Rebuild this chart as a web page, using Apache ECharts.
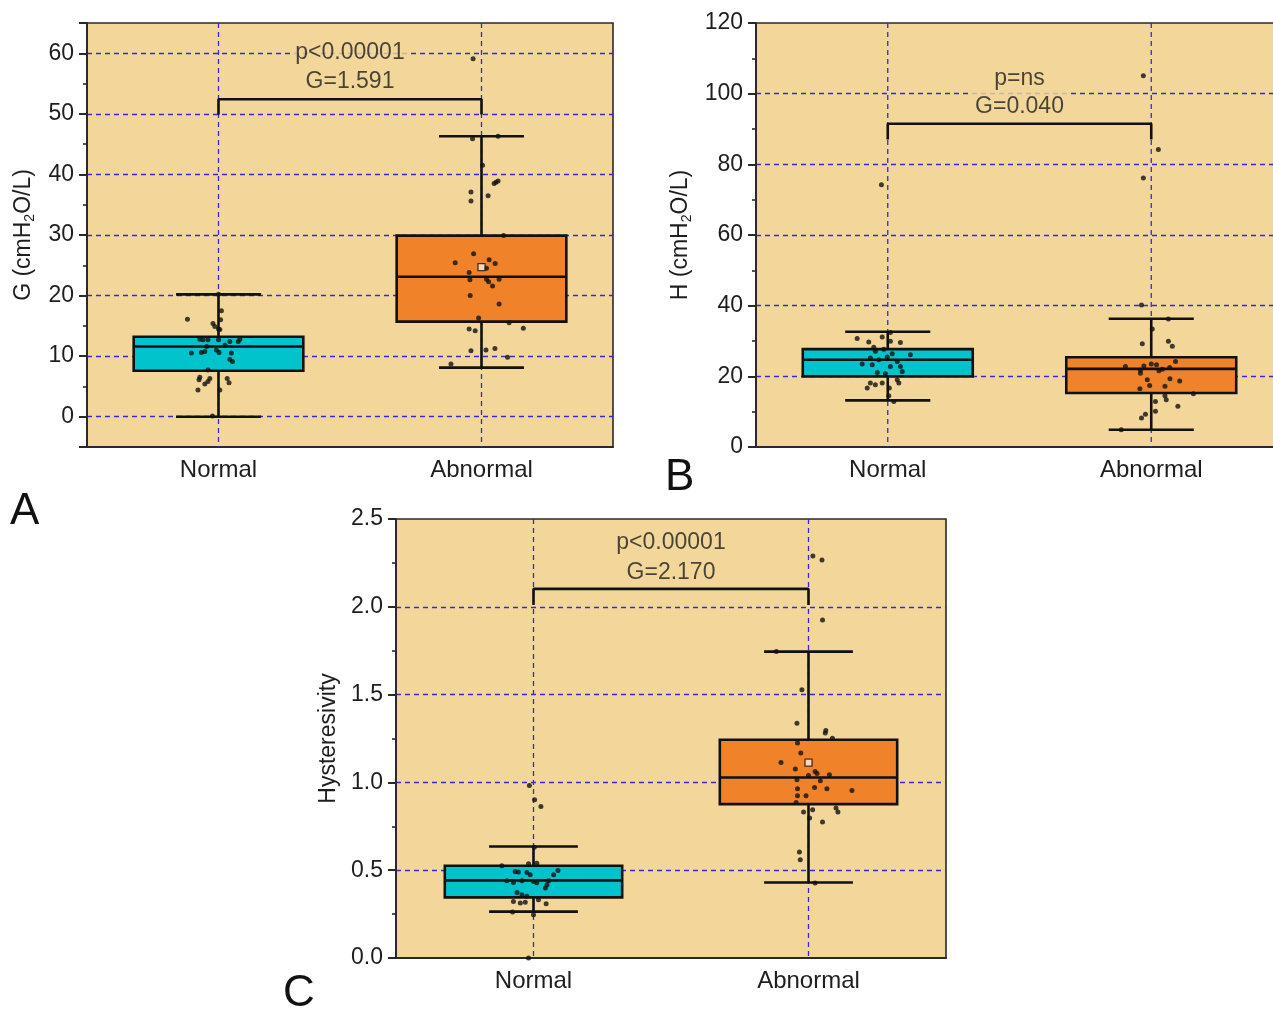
<!DOCTYPE html>
<html><head><meta charset="utf-8">
<script src="https://cdn.jsdelivr.net/npm/echarts@6/dist/echarts.min.js"></script>
<style>html,body{margin:0;padding:0;background:#fff}#c{width:1273px;height:1009px}</style>
</head><body><div id="c"></div>
<script>
// ---------- DATA ----------
const categories = ['Normal', 'Abnormal'];

// box statistics: [lower whisker, Q1, median, Q3, upper whisker]
const boxG  = [[0, 7.6, 11.6, 13.2, 20.2], [8.1, 15.7, 23.1, 29.9, 46.3]];
const boxH  = [[13.2, 20.0, 24.7, 27.7, 32.6], [4.9, 15.3, 22.1, 25.4, 36.3]];
const boxHy = [[0.264, 0.345, 0.442, 0.525, 0.635], [0.430, 0.876, 1.028, 1.243, 1.745]];

// visible mean markers [category index, value]
const meanG  = [[1, 24.7]];
const meanH  = [];
const meanHy = [[1, 1.113]];

// individual points: [horizontal jitter in category units, value]
const ptsG_Normal = [[-0.118,16.1],[0.011,17.5],[0.008,16.0],[-0.021,15.4],[-0.014,14.9],[0,14.5],[0.005,14.4],[-0.071,12.8],[-0.059,12.7],[-0.04,12.7],[0,12.7],[0.043,12.4],[0.075,12.4],[0.081,12.8],[-0.103,10.5],[-0.065,10.6],[-0.052,10.75],[-0.008,11.0],[0.002,10.6],[0.049,10.5],[0.043,9.5],[0.053,9.1],[-0.071,6.5],[-0.074,6.1],[-0.033,6.3],[-0.04,5.8],[-0.052,5.4],[0.033,6.3],[0.04,5.6],[-0.078,4.4],[0.005,4.4],[-0.023,0.1],[-0.04,7.7],[-0.045,11.6],[0.025,11.8],[0,20.2]];
const ptsG_Abnormal = [[-0.032,59.1],[-0.034,45.9],[0.063,46.3],[0.004,41.5],[0.055,38.7],[0.063,38.9],[0.048,38.5],[-0.04,37.1],[-0.04,35.6],[0.025,36.5],[0.084,29.9],[-0.03,26.9],[-0.1,25.4],[0.029,25.9],[0.052,25.3],[0.019,24.5],[-0.047,23.8],[-0.044,22.6],[0.019,22.7],[0.027,22.3],[0.042,21.6],[0.067,22.7],[-0.043,20.0],[0.067,18.6],[-0.011,16.3],[0.105,15.5],[-0.047,14.5],[-0.024,14.2],[0.159,14.6],[-0.04,10.9],[0.017,11.0],[0.051,11.25],[0.099,9.8],[-0.116,8.7]];
const ptsH_Normal = [[-0.024,74.2],[-0.116,30.7],[-0.072,29.7],[-0.021,31.1],[0.01,29.9],[0.048,29.6],[-0.053,28.2],[-0.015,27.7],[-0.047,27.1],[0.017,26.4],[0.086,26.1],[-0.066,25.2],[-0.034,24.7],[-0.002,25.5],[0.036,24.2],[-0.097,23.5],[-0.059,23.3],[0.01,22.8],[0.048,22.8],[-0.04,21.1],[-0.009,20.7],[0.055,21.4],[-0.066,18.1],[-0.047,17.6],[-0.021,18.1],[-0.078,16.7],[0.036,19.0],[0.042,18.1],[0.006,16.7],[0.004,14.5],[0.023,12.9],[0.01,32.4]];
const ptsH_Abnormal = [[-0.03,105.1],[0.027,84.2],[-0.03,76.1],[-0.037,40.2],[0.004,33.4],[0.065,36.2],[-0.034,29.2],[0.065,29.9],[0.08,28.5],[0.092,24.2],[-0.098,22.8],[-0.028,22.9],[0,23.5],[0.02,23.3],[-0.041,21.7],[0.029,21.6],[0.042,22.0],[0.07,22.5],[-0.041,20.9],[-0.015,19.0],[0.071,19.3],[0.108,18.7],[-0.006,17.4],[0.052,17.2],[-0.043,16.5],[0.16,15.1],[0.052,14.5],[0.057,13.4],[0.016,12.9],[0.101,11.5],[0.016,10.1],[-0.022,9.3],[-0.037,8.2],[-0.114,4.9]];
const ptsHy_Normal = [[-0.015,0.982],[0.004,0.901],[0.027,0.863],[0.003,0.63],[-0.018,0.537],[0.012,0.54],[-0.115,0.525],[0.089,0.499],[0.073,0.474],[-0.067,0.493],[-0.055,0.49],[-0.024,0.487],[-0.012,0.474],[-0.097,0.44],[-0.073,0.43],[-0.042,0.44],[0,0.435],[0.012,0.428],[0.049,0.417],[0.043,0.398],[0.055,0.44],[-0.06,0.373],[-0.042,0.36],[-0.024,0.351],[-0.073,0.322],[-0.048,0.313],[-0.03,0.318],[0.018,0.332],[0.046,0.309],[-0.076,0.262],[0,0.246],[-0.018,0.0]];
const ptsHy_Abnormal = [[0.016,2.29],[0.049,2.267],[0.051,1.925],[-0.117,1.745],[-0.024,1.527],[-0.042,1.337],[0.063,1.295],[0.061,1.282],[0.087,1.252],[-0.04,1.224],[-0.028,1.167],[-0.1,1.113],[-0.048,1.077],[0,1.039],[0.024,1.062],[0.031,1.05],[0.043,1.009],[0.076,1.043],[-0.042,1.015],[-0.04,0.964],[0.022,0.971],[0.067,0.964],[0.158,0.954],[-0.04,0.924],[-0.009,0.924],[-0.045,0.886],[-0.018,0.831],[0.015,0.844],[0.004,0.797],[0.1,0.854],[0.107,0.831],[0.051,0.774],[-0.033,0.603],[-0.03,0.559],[0.024,0.427]];

// significance brackets: [leg bottom, bar top] and their labels
const bracketG  = [49.9, 52.4];
const bracketH  = [87.0, 91.5];
const bracketHy = [2.01, 2.102];
const annotG  = ['p<0.00001', 'G=1.591'];
const annotH  = ['p=ns', 'G=0.040'];
const annotHy = ['p<0.00001', 'G=2.170'];

// axis names / panel letters
const yNames = ['G (cmH{sub|2}O/L)', 'H (cmH{sub|2}O/L)', 'Hysteresivity'];
const panelLetters = ['A', 'B', 'C'];

// ---------- STYLE ----------
const FONT = '"Liberation Sans", Arial, Helvetica, sans-serif';
const TXT = '#1e1e1e';
const AX = '#2a2a2a';
const GRIDBLUE = '#3628d8';
const BG = '#F3D79A';
const FILLS = ['#00C3CC', '#F0832A'];
const BOX_W = 0.645, CAP_W = 0.323;
const DASH = [5, 4];

const panels = [
  {box: boxG, mean: meanG, pts: [ptsG_Normal, ptsG_Abnormal], br: bracketG, an: annotG,
   grid: {left: 87, top: 23, width: 526, height: 424},
   y: {min: -5, max: 65, splitNumber: 7}, nameGap: 50, fmt: v => (v % 10 === 0 ? String(v) : ''), dist: 3, lh: 29},
  {box: boxH, mean: meanH, pts: [ptsH_Normal, ptsH_Abnormal], br: bracketH, an: annotH,
   grid: {left: 756, top: 23, width: 527, height: 424},
   y: {min: 0, max: 120, interval: 20}, nameGap: 62, fmt: v => String(v), dist: 3, lh: 28},
  {box: boxHy, mean: meanHy, pts: [ptsHy_Normal, ptsHy_Abnormal], br: bracketHy, an: annotHy,
   grid: {left: 396, top: 519, width: 550, height: 439},
   y: {min: 0, max: 2.5, interval: 0.5}, nameGap: 56, fmt: v => v.toFixed(1), dist: 1, lh: 30}
];

function boxRender(params, api) {
  const i = api.value(0);
  const lo = api.coord([i, api.value(1)]);
  const q1 = api.coord([i, api.value(2)]);
  const md = api.coord([i, api.value(3)]);
  const q3 = api.coord([i, api.value(4)]);
  const hi = api.coord([i, api.value(5)]);
  const bw = api.size([BOX_W, 0])[0];
  const cw = api.size([CAP_W, 0])[0];
  const x = md[0];
  const cs = params.coordSys;
  const st = {stroke: '#111', lineWidth: 2.6};
  return {type: 'group', children: [
    {type: 'line', shape: {x1: x, y1: cs.y, x2: x, y2: cs.y + cs.height}, style: {stroke: GRIDBLUE, lineWidth: 1.3, lineDash: DASH}},
    {type: 'line', shape: {x1: x, y1: hi[1], x2: x, y2: q3[1]}, style: st},
    {type: 'line', shape: {x1: x, y1: q1[1], x2: x, y2: lo[1]}, style: st},
    {type: 'line', shape: {x1: x - cw / 2, y1: hi[1], x2: x + cw / 2, y2: hi[1]}, style: st},
    {type: 'line', shape: {x1: x - cw / 2, y1: lo[1], x2: x + cw / 2, y2: lo[1]}, style: st},
    {type: 'rect', shape: {x: x - bw / 2, y: q3[1], width: bw, height: q1[1] - q3[1]}, style: {fill: FILLS[i], stroke: '#111', lineWidth: 2.6}},
    {type: 'line', shape: {x1: x - bw / 2, y1: md[1], x2: x + bw / 2, y2: md[1]}, style: st}
  ]};
}

const grid = [], xAxis = [], yAxis = [], series = [];
panels.forEach((p, g) => {
  grid.push(Object.assign({show: true, backgroundColor: BG, borderColor: AX, borderWidth: 1.6,
    outerBoundsMode: 'none', containLabel: false}, p.grid));
  xAxis.push({
    gridIndex: g, type: 'category', data: categories, boundaryGap: true,
    axisLine: {onZero: false, lineStyle: {color: AX, width: 2}},
    axisTick: {alignWithLabel: true, length: 8, lineStyle: {color: AX, width: 2}},
    axisLabel: {fontSize: 24, color: TXT, fontFamily: FONT, margin: 11},
    splitLine: {show: false}
  });
  xAxis.push({gridIndex: g, type: 'value', min: -0.5, max: 1.5, show: false, axisLine: {onZero: false}});
  yAxis.push(Object.assign({
    gridIndex: g, type: 'value',
    name: yNames[g], nameLocation: 'middle', nameGap: p.nameGap,
    nameTextStyle: {fontSize: 23, color: TXT, fontFamily: FONT,
      rich: {sub: {fontSize: 14, fontFamily: FONT, color: TXT, padding: [12, 0, 0, 0]}}},
    axisLine: {show: true, onZero: false, lineStyle: {color: AX, width: 2}},
    axisTick: {show: true, length: 8, lineStyle: {color: AX, width: 2}},
    minorTick: {show: true, splitNumber: 2, length: 4, lineStyle: {color: AX, width: 1.6}},
    axisLabel: {fontSize: 23, color: TXT, fontFamily: FONT, margin: 13, formatter: p.fmt},
    splitLine: {show: true, showMinLine: false, showMaxLine: false, lineStyle: {color: GRIDBLUE, width: 1.3, type: DASH}}
  }, p.y));

  const xi = g * 2 + 1;
  series.push({
    type: 'custom', xAxisIndex: xi, yAxisIndex: g, renderItem: boxRender, z: 2, silent: true,
    encode: {x: 0, y: [1, 2, 3, 4, 5]},
    data: p.box.map((b, i) => [i].concat(b))
  });
  series.push({
    type: 'scatter', xAxisIndex: xi, yAxisIndex: g, z: 3, silent: true,
    symbolSize: 1, itemStyle: {color: 'rgba(0,0,0,0)'},
    label: {show: true, position: 'top', distance: p.dist, formatter: p.an.join('\n'),
      fontSize: 23, lineHeight: p.lh, color: TXT, fontFamily: FONT, align: 'center',
      backgroundColor: BG, padding: [0, 4]},
    data: [[0.5, p.br[1]]]
  });
  p.pts.forEach((arr, i) => {
    series.push({
      type: 'scatter', xAxisIndex: xi, yAxisIndex: g, z: 4, silent: true,
      symbolSize: 5, itemStyle: {color: '#111'},
      data: arr.map(d => [i + d[0], d[1]])
    });
  });
  series.push({
    type: 'scatter', xAxisIndex: xi, yAxisIndex: g, z: 5, silent: true,
    symbol: 'rect', symbolSize: 7,
    itemStyle: {color: 'rgba(255,255,255,0.85)', borderColor: '#111', borderWidth: 1.3},
    data: p.mean.map(d => [d[0], d[1]])
  });
  series.push({
    type: 'line', xAxisIndex: xi, yAxisIndex: g, z: 5, silent: true, symbol: 'none',
    lineStyle: {color: '#111', width: 2.6},
    data: [[0, p.br[0]], [0, p.br[1]], [1, p.br[1]], [1, p.br[0]]]
  });
});

const letterPos = [[10, 490], [665, 456], [283, 972]];
const chart = echarts.init(document.getElementById('c'), null, {renderer: 'canvas'});
chart.setOption({
  animation: false,
  backgroundColor: '#fff',
  grid, xAxis, yAxis, series,
  graphic: panelLetters.map((t, i) => ({
    type: 'text', left: letterPos[i][0], top: letterPos[i][1],
    style: {text: t, fontSize: 44, fill: '#111', fontFamily: FONT}
  }))
});
</script></body></html>
